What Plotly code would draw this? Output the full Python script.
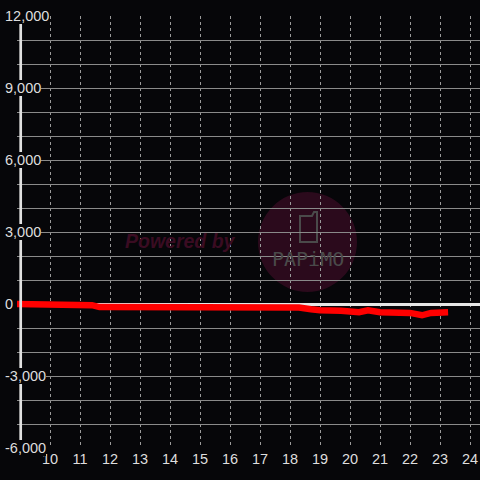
import plotly.graph_objects as go

# ---- data ----
hours = [8.9, 11.2, 11.4, 11.65, 18.0, 18.3, 18.7, 19.0, 19.7, 20.3, 20.6, 21.0, 22.0, 22.4, 22.7, 23.27]
values = [0, 0, -50, -130, -130, -150, -220, -260, -285, -340, -265, -340, -370, -470, -370, -340]

x_tick_vals = list(range(10, 25))
x_tick_text = [str(v) for v in x_tick_vals]
y_tick_vals = [12000, 9000, 6000, 3000, 0, -3000, -6000]
y_tick_text = ["12,000", "9,000", "6,000", "3,000", "0", "-3,000", "-6,000"]

BG = "#060609"
TXT = "#dedede"
FONT = "Liberation Sans"

fig = go.Figure()
fig.add_trace(go.Scatter(
    x=hours, y=values, mode="lines",
    line=dict(color="#ff0000", width=6.5),
    hoverinfo="skip", showlegend=False,
))

# y tick labels as annotations with background (they cover the axis line)
annotations = []
for v, t in zip(y_tick_vals, y_tick_text):
    annotations.append(dict(
        xref="paper", yref="y", x=(5 - 17) / 463, y=v,
        xanchor="left", yanchor="middle", text=t, showarrow=False,
        font=dict(family=FONT, size=14.5, color=TXT),
        bgcolor=BG, borderpad=0, borderwidth=0,
    ))

# watermark
annotations.append(dict(
    xref="paper", yref="paper", x=(180.5 - 17) / 463, y=(448 - 241.5) / 432,
    text="<b><i>Powered by</i></b>", showarrow=False,
    font=dict(family=FONT, size=19.5, color="#3a0c22"),
    xanchor="center", yanchor="middle",
))
annotations.append(dict(
    xref="paper", yref="paper", x=(308 - 17) / 463, y=(448 - 258.5) / 432,
    text="PAPiMO", showarrow=False,
    font=dict(family="DejaVu Sans Mono", size=20, color="#4a4a4a"),
    xanchor="center", yanchor="middle",
))

def px(v):
    return (v - 17) / 463

def py(v):
    return (448 - v) / 432

shapes = [
    dict(type="circle", xref="paper", yref="paper",
         x0=px(258), x1=px(357), y0=py(292), y1=py(192),
         fillcolor="#2b0a1c", line=dict(width=0), layer="below"),
    dict(type="path", xref="paper", yref="paper",
         path=(f"M {px(300)},{py(216)} L {px(300)},{py(242)} L {px(317)},{py(242)} "
               f"L {px(317)},{py(212)} L {px(314)},{py(212)} L {px(312)},{py(216)} Z"),
         line=dict(color="#4a4a4a", width=2), layer="below"),
    # y axis line
    dict(type="line", xref="paper", yref="paper",
         x0=px(20.7), x1=px(20.7), y0=0, y1=1,
         line=dict(color="#e0e0e0", width=2.7), layer="above"),
]

fig.update_layout(
    width=480, height=480,
    margin=dict(l=17, r=0, t=16, b=32, autoexpand=False),
    paper_bgcolor=BG, plot_bgcolor=BG,
    showlegend=False,
    annotations=annotations,
    shapes=shapes,
    xaxis=dict(
        range=[8.9, 8.9 + 463 / 30], tickmode="array",
        tickvals=x_tick_vals, ticktext=x_tick_text,
        showgrid=True, gridcolor="#9a9a9a", gridwidth=1, griddash="3px,3px",
        zeroline=False, showline=False, ticks="", automargin=False,
        tickfont=dict(family=FONT, size=14.5, color=TXT),
        fixedrange=True,
    ),
    yaxis=dict(
        range=[-6000, 12000], dtick=1000, tick0=0,
        showgrid=True, gridcolor="#8a8a8a", gridwidth=1,
        zeroline=True, zerolinecolor="#e6e6e6", zerolinewidth=3,
        showticklabels=False, showline=False, ticks="", automargin=False,
        fixedrange=True,
    ),
)

fig.write_html(
    "out.html",
    config={"displayModeBar": False, "staticPlot": True},
    post_script="document.body.style.margin='0';document.body.style.background='#060609';",
)
